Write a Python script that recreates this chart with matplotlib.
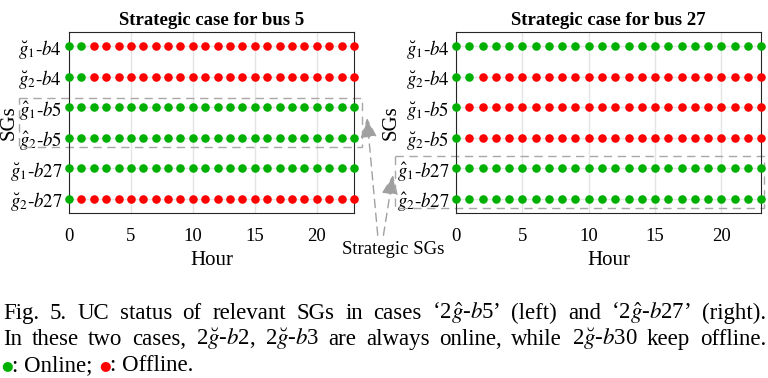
import numpy as np
import matplotlib.pyplot as plt
from matplotlib.patches import Rectangle

plt.rcParams['font.family'] = ['Liberation Serif', 'DejaVu Serif']
plt.rcParams['mathtext.fontset'] = 'stix'

# Hours of the unit-commitment horizon
hours = np.arange(24)

# Left panel: strategic case for bus 5
labels_bus5 = [r'$\breve{g}_1$-$b4$', r'$\breve{g}_2$-$b4$',
               r'$\hat{g}_1$-$b5$', r'$\hat{g}_2$-$b5$',
               r'$\breve{g}_1$-$b27$', r'$\breve{g}_2$-$b27$']
# 1 = online, 0 = offline, one character per hour
status_bus5 = ['110000000000000000000000',
               '110000000000000000000000',
               '111111111111111111111111',
               '111111111111111111111111',
               '111111111111111111111111',
               '100000000000000000000000']

# Right panel: strategic case for bus 27
labels_bus27 = [r'$\breve{g}_1$-$b4$', r'$\breve{g}_2$-$b4$',
                r'$\breve{g}_1$-$b5$', r'$\breve{g}_2$-$b5$',
                r'$\hat{g}_1$-$b27$', r'$\hat{g}_2$-$b27$']
status_bus27 = ['111111111111111111111111',
                '110000000000000000000000',
                '100000000000000000000000',
                '100000000000000000000000',
                '111111111111111111111111',
                '111111111111111111111111']

caption_line1 = ('Fig. 5.  UC status of relevant SGs in cases \u20182$\\hat{g}$-$b$5\u2019 '
                 '(left) and \u20182$\\hat{g}$-$b$27\u2019 (right).')
caption_line2 = ('In these two cases, 2$\\breve{g}$-$b$2, 2$\\breve{g}$-$b$3 are always '
                 'online, while 2$\\breve{g}$-$b$30 keep offline.')

GREEN = '#00b000'
RED = '#ff0000'


def draw_panel(ax, labels, status, title, ylabel_x):
    rows = np.arange(1, len(labels) + 1)
    for r, s in zip(rows, status):
        on = np.array([c == '1' for c in s])
        ax.scatter(hours[on], np.full(on.sum(), r), s=38, color=GREEN,
                   linewidths=0, zorder=3, clip_on=False)
        ax.scatter(hours[~on], np.full((~on).sum(), r), s=38, color=RED,
                   linewidths=0, zorder=3, clip_on=False)
    ax.set_xlim(0, 23)
    ax.set_ylim(6.46, 0.54)
    ax.set_xticks([0, 5, 10, 15, 20])
    ax.set_yticks(rows)
    ax.set_yticklabels(labels)
    ax.grid(True, color='#e4e4e4', lw=1)
    ax.set_axisbelow(True)
    ax.tick_params(length=0, labelsize=13.5)
    ax.tick_params(axis='x', pad=11)
    ax.tick_params(axis='y', pad=5)
    for sp in ax.spines.values():
        sp.set_color('#262626')
    ax.set_xlabel('Hour', fontsize=15, labelpad=4)
    ax.set_ylabel('SGs', fontsize=15)
    ax.yaxis.set_label_coords(ylabel_x, 0.5)
    ax.set_title(title, fontsize=13.5, fontweight='bold', pad=5)


fig = plt.figure(figsize=(7.68, 3.78), dpi=100)
ax1 = fig.add_axes([0.0898, 0.4365, 0.371, 0.4788])
ax2 = fig.add_axes([0.594, 0.4365, 0.397, 0.4788])

draw_panel(ax1, labels_bus5, status_bus5, 'Strategic case for bus 5', -0.175)
draw_panel(ax2, labels_bus27, status_bus27, 'Strategic case for bus 27', -0.183)

# Dashed boxes around the strategic SGs
ax1.add_patch(Rectangle((-4.03, 2.70), 27.68, 1.60, fill=False, ls=(0, (6, 4)),
                        ec='#a8a8a8', lw=1, clip_on=False))
ax2.add_patch(Rectangle((-4.6, 4.60), 27.85, 1.70, fill=False, ls=(0, (6, 4)),
                        ec='#a8a8a8', lw=1, clip_on=False))

# Annotation with two dashed arrows
arrow = dict(arrowstyle='-|>,head_length=0.6,head_width=0.25', ls=(0, (6, 4)),
             color='#a0a0a0', lw=1, mutation_scale=20, shrinkA=2, shrinkB=0)
fig.text(393 / 768, 1 - 250 / 378, 'Strategic SGs', fontsize=13.5,
         ha='center', va='center')
ax1.annotate('', xy=(367 / 768, 1 - 118 / 378), xycoords='figure fraction',
             xytext=(378 / 768, 1 - 238 / 378), textcoords='figure fraction',
             arrowprops=arrow, annotation_clip=False)
ax1.annotate('', xy=(393 / 768, 1 - 175 / 378), xycoords='figure fraction',
             xytext=(383 / 768, 1 - 238 / 378), textcoords='figure fraction',
             arrowprops=arrow, annotation_clip=False)

# Caption, justified between the page margins
cap = 16.5
renderer = fig.canvas.get_renderer()


def justified_line(line, y_px, x0_px=3, x1_px=766):
    words = [w for w in line.split(' ') if w]
    texts = [fig.text(0, 1 - y_px / 378, w, fontsize=cap, va='baseline', ha='left')
             for w in words]
    widths = [t.get_window_extent(renderer).width for t in texts]
    gap = (x1_px - x0_px - sum(widths)) / (len(words) - 1)
    x = x0_px
    for t, w in zip(texts, widths):
        t.set_x(x / 768)
        x += w + gap


justified_line(caption_line1, 319)
justified_line(caption_line2, 345)

y3 = 1 - 371 / 378
t1 = fig.text(1 / 768, y3 + 2 / 378, '\u25cf', color=GREEN, fontsize=9.5,
              family='DejaVu Sans', va='baseline', ha='left')
t2 = ax1.annotate(': Online; ', xy=(1, y3), xycoords=(t1, 'figure fraction'),
                  fontsize=cap, va='baseline', ha='left', annotation_clip=False)
t3 = ax1.annotate('\u25cf', xy=(1, y3 + 2 / 378), xycoords=(t2, 'figure fraction'),
                  color=RED, fontsize=9.5, family='DejaVu Sans',
                  va='baseline', ha='left', annotation_clip=False)
ax1.annotate(': Offline.', xy=(1, y3), xycoords=(t3, 'figure fraction'),
             fontsize=cap, va='baseline', ha='left', annotation_clip=False)

fig.savefig('out.png', dpi=100)
